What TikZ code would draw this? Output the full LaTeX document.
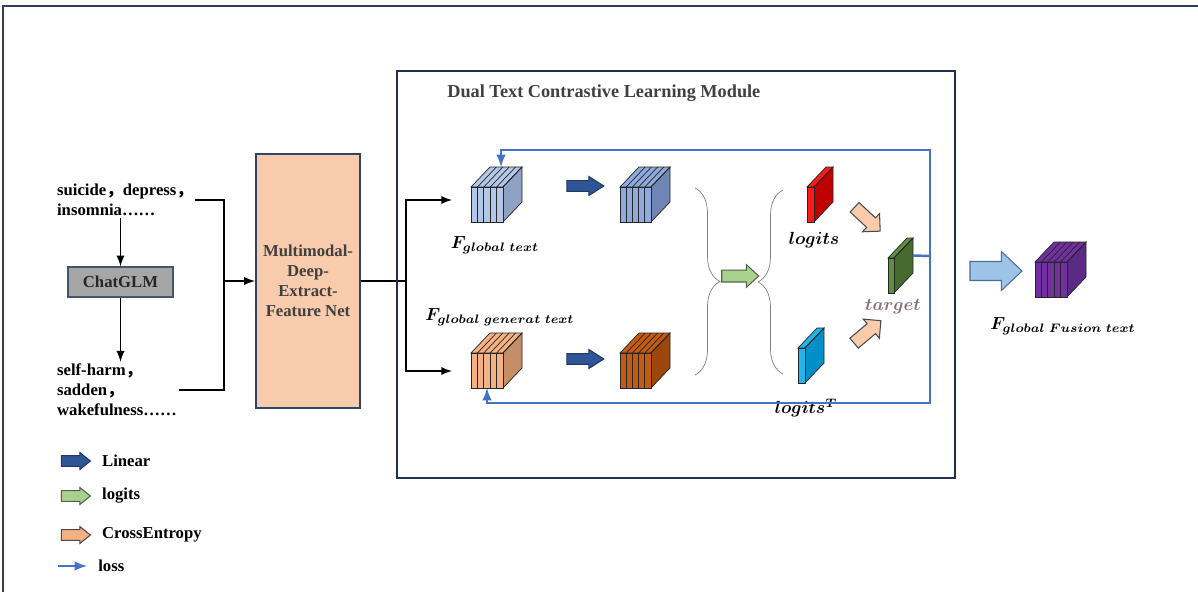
\documentclass[tikz,border=0pt]{standalone}
\usepackage{amsmath}
\usepackage{amssymb}
\usepackage{fontspec}
\setmainfont{Liberation Serif}
\newfontfamily\cjk{Noto Sans CJK SC}
\usetikzlibrary{positioning, shapes.arrows, decorations.pathreplacing}

\definecolor{frameblue}{HTML}{2E3F5C}
\definecolor{boxedge}{HTML}{1F2F4F}
\definecolor{titlegray}{HTML}{404040}
\definecolor{glmfill}{HTML}{A6A6A6}
\definecolor{glmedge}{HTML}{44546A}
\definecolor{mdeffill}{HTML}{F8CBAD}
\definecolor{mdefedge}{HTML}{2F4565}
\definecolor{linfill}{HTML}{2F5597}
\definecolor{linedge}{HTML}{1F3864}
\definecolor{lgfill}{HTML}{A9D18E}
\definecolor{lgedge}{HTML}{55614C}
\definecolor{cefill}{HTML}{F4B183}
\definecolor{peachfill}{HTML}{F8CBAD}
\definecolor{ceedge}{HTML}{4A4A4A}
\definecolor{fusefill}{HTML}{9DC3E6}
\definecolor{fuseedge}{HTML}{4A6E96}
\definecolor{lossblue}{HTML}{4472C4}
\definecolor{bracecol}{HTML}{7F7F7F}
\definecolor{targetcol}{HTML}{857070}
\definecolor{c1f}{HTML}{B4C7E7}
\definecolor{c1s}{HTML}{8FA2C3}
\definecolor{c2f}{HTML}{8FAADC}
\definecolor{c2s}{HTML}{6F86B4}
\definecolor{c3f}{HTML}{F4B183}
\definecolor{c3s}{HTML}{C38E66}
\definecolor{c4f}{HTML}{C55A11}
\definecolor{c4s}{HTML}{9A460D}
\definecolor{c5f}{HTML}{7030A0}
\definecolor{c5s}{HTML}{5A2A84}
\definecolor{redf}{HTML}{FF1A1A}
\definecolor{reds}{HTML}{C00000}
\definecolor{bluef}{HTML}{1FB6EE}
\definecolor{blues}{HTML}{0090C8}
\definecolor{greenf}{HTML}{5E8E3E}
\definecolor{greens}{HTML}{476B2E}

% feature cube: name, x, y (front top left), width, slices, front colour, side colour
\newcommand{\featcube}[7]{%
  \begin{scope}[shift={(#2,#3)}]
    \filldraw[cubeline, fill=#6] (0,0) -- (19,-20) -- (#4+19,-20) -- (#4,0) -- cycle;
    \filldraw[cubeline, fill=#7] (#4,0) -- (#4+19,-20) -- (#4+19,15) -- (#4,35) -- cycle;
    \filldraw[cubeline, fill=#6] (0,0) rectangle (#4,35);
    \foreach \i in {1,...,#5} {
      \draw[cubeline] ({\i*#4/#5},0) -- ++(0,35);
      \draw[cubeline] ({\i*#4/#5},0) -- ++(19,-20);
    }
    \coordinate (#1-top) at (#4/2+14,-20);
    \coordinate (#1-bot) at (#4/2,35);
    \coordinate (#1-e) at (#4+19,-2.5);
  \end{scope}}

\begin{document}
\begin{tikzpicture}[>=latex, x=0.02cm, y=-0.02cm,
  font=\fontsize{9.5}{11.5}\selectfont\bfseries,
  conn/.style={line width=1.1pt},
  loss/.style={draw=lossblue, line width=1.4pt},
  cubeline/.style={draw=black!85, line width=0.4pt},
  words/.style={align=left, inner sep=1pt, anchor=west},
  mlabel/.style={font=\fontsize{10}{12}\selectfont, inner sep=1pt},
  blockarr/.style={single arrow, inner xsep=0pt, inner ysep=2.8pt,
    single arrow head extend=2.3pt, single arrow tip angle=65, line width=0.6pt},
  arrLinear/.style={blockarr, fill=linfill, draw=linedge, minimum height=0.74cm},
  arrLogits/.style={blockarr, fill=lgfill, draw=lgedge, minimum height=0.74cm,
    inner ysep=3.1pt, single arrow head extend=3.1pt, single arrow tip angle=85},
  arrPeach/.style={blockarr, fill=peachfill, draw=ceedge, minimum height=0.7cm,
    inner ysep=3.4pt, single arrow head extend=3.4pt, single arrow tip angle=90},
  arrFuse/.style={blockarr, fill=fusefill, draw=fuseedge, minimum height=1.04cm,
    inner ysep=5.1pt, single arrow head extend=5.7pt, single arrow tip angle=87},
  legarr/.style={minimum height=0.58cm, inner ysep=2.8pt,
    single arrow head extend=1.7pt, single arrow tip angle=77},
  legtext/.style={inner sep=0pt, anchor=west}]
  \useasboundingbox (0,0) rectangle (1198,592);
  \draw[frameblue, line width=0.7pt] (3,592) -- (3,6) -- (1198,6);

  % input texts and ChatGLM
  \node[words] (kw) at (55,200) {suicide{\cjk ，}depress{\cjk ，}\\insomnia……};
  \node[draw=glmedge, fill=glmfill, line width=0.8pt, minimum width=2.1cm,
    minimum height=0.6cm, text=black!85] (glm) at (120.5,282) {ChatGLM};
  \node[words] (gen) at (55,390) {self-harm{\cjk ，}\\sadden{\cjk ，}\\wakefulness……};
  \draw[conn,->] (glm.north |- kw.south) -- (glm.north);
  \draw[conn,->] (glm.south) -- (glm.south |- gen.north);

  \node[draw=mdefedge, fill=mdeffill, line width=1.2pt, minimum width=2.08cm,
    minimum height=5.08cm, align=center, text=titlegray] (mdef) at (308,281)
    {Multimodal-\\Deep-\\Extract-\\Feature Net};
  \coordinate (join) at (224,281);
  \draw[conn] (kw.east) -| (join) |- (gen.east);
  \draw[conn,->] (join) -- (mdef.west);
  \coordinate (split) at (406,281);
  \coordinate (in1) at (452,200);
  \coordinate (in2) at (452,371);
  \draw[conn] (mdef.east) -- (split);
  \draw[conn,->] (split) |- (in1);
  \draw[conn,->] (split) |- (in2);

  % contrastive module
  \draw[boxedge, line width=0.9pt] (397,71) rectangle (955,478);
  \node[anchor=west, inner sep=0pt, text=titlegray,
    font=\fontsize{10.4}{12}\selectfont\bfseries] (title) at (447,93)
    {Dual Text Contrastive Learning Module};

  \featcube{c1}{471}{187}{32}{5}{c1f}{c1s}
  \featcube{c2}{620}{187}{31}{5}{c2f}{c2s}
  \featcube{c3}{471}{353}{32}{5}{c3f}{c3s}
  \featcube{c4}{620}{353}{31}{5}{c4f}{c4s}
  \featcube{lg}{807}{187}{7}{1}{redf}{reds}
  \featcube{lgT}{798}{348}{7}{1}{bluef}{blues}
  \featcube{tg}{888}{258}{6}{1}{greenf}{greens}
  \featcube{fu}{1035}{262}{32}{5}{c5f}{c5s}

  \node[mlabel] (lFg) at (495,245) {$\boldsymbol{F_{global\ text}}$};
  \node[mlabel] (lFgg) at (500,317) {$\boldsymbol{F_{global\ generat\ text}}$};
  \node[mlabel] (llg) at (814,240) {$\boldsymbol{logits}$};
  \node[mlabel] (llgT) at (806,408) {$\boldsymbol{logits^{T}}$};
  \node[mlabel, text=targetcol] (ltg) at (893,307) {$\boldsymbol{target}$};
  \node[mlabel] (lfu) at (1063,326) {$\boldsymbol{F_{global\ Fusion\ text}}$};

  \node[arrLinear] (lin1) at (581,186) {};
  \node[arrLinear] (lin2) at (581,359) {};
  \node[arrLogits] (lgarr) at (737,276) {};
  \node[arrPeach, rotate=-43] (ce1) at (865,217) {};
  \node[arrPeach, rotate=40] (ce2) at (865,334) {};
  \node[arrFuse] (fuarr) at (991,271) {};

  \draw[bracecol, line width=0.4pt, decorate, decoration={brace, amplitude=0.5cm}]
    (695,188) -- (695,375);
  \draw[bracecol, line width=0.4pt, decorate, decoration={brace, amplitude=0.5cm}]
    (783,374) -- (783,190);

  % loss loop
  \coordinate (lossR) at (930,256);
  \coordinate (lossT) at (930,150);
  \coordinate (lossB) at (930,403);
  \draw[loss] (tg-e) -- (lossR);
  \draw[loss,->] (lossR) -- (lossT) -| (c1-top);
  \draw[loss,->] (lossR) -- (lossB) -| (c3-bot);

  % legend
  \node[arrLinear, legarr] (legLin) at (72.5,461) {};
  \node[legtext, right=6pt of legLin] (tLin) {Linear};
  \node[arrLogits, legarr] (legLg) at (72.5,496) {};
  \node[legtext, right=6pt of legLg] (tLg) {logits};
  \node[blockarr, legarr, fill=cefill, draw=ceedge] (legCE) at (72.5,535) {};
  \node[legtext, right=6pt of legCE] (tCE) {CrossEntropy};
  \coordinate (legLoss) at (58,566);
  \node[legtext] (tLoss) at (98,566) {loss};
  \draw[loss,->] (legLoss) -- ++(29,0);
\end{tikzpicture}
\end{document}
